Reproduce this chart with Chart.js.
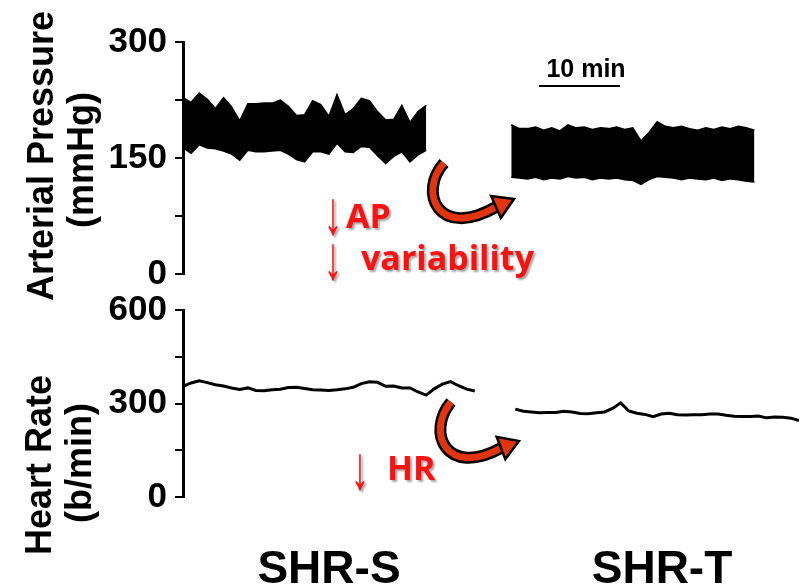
<!DOCTYPE html>
<html>
<head>
<meta charset="utf-8">
<script src="https://cdn.jsdelivr.net/npm/chart.js@4.4.1/dist/chart.umd.min.js"></script>
<style>
  body { margin: 0; background: #fff; }
  .wrap { position: relative; width: 807px; height: 587px; }
  canvas { position: absolute; left: 0; top: 0; }
</style>
</head>
<body>
<div class="wrap">
  <canvas id="apChart" width="807" height="587"></canvas>
  <canvas id="hrChart" width="807" height="587"></canvas>
</div>
<script>
// arterial pressure envelope (mmHg), one reading per minute
const apStartS = 0;
const apUpperS = [228, 222, 234, 226, 214, 228, 216, 198, 220, 220, 221, 221, 225, 217, 205, 206,
                  224, 219, 204, 232, 206, 214, 227, 224, 210, 199, 200, 218, 196, 210, 218];
const apLowerS = [163, 156, 167, 163, 162, 159, 155, 147, 160, 158, 158, 159, 160, 155, 148, 145,
                  158, 158, 155, 169, 158, 157, 165, 164, 153, 143, 152, 158, 145, 154, 160];

const apStartT = 40.5;
const apUpperT = [193, 188, 188, 190, 186, 189, 185, 193, 189, 190, 187, 189, 188, 190, 187, 189,
                  172, 183, 197, 191, 189, 191, 188, 186, 189, 187, 190, 188, 191, 189, 186];
const apLowerT = [125, 124, 123, 125, 122, 124, 123, 126, 124, 125, 122, 124, 123, 124, 122, 121,
                  116, 122, 126, 125, 124, 122, 124, 123, 122, 124, 121, 123, 122, 120, 119];

// heart rate (b/min), one reading per minute
const hrStartS = 0;
const hrS = [355, 366, 373, 367, 360, 356, 350, 345, 350, 342, 341, 344, 346, 351, 352, 348, 344, 343,
             342, 344, 347, 352, 364, 370, 368, 355, 356, 350, 350, 337, 327, 347, 362, 370, 357, 346, 340];
const hrStartT = 41;
const hrT = [282, 275, 273, 270, 271, 271, 275, 273, 268, 267, 270, 273, 284, 302, 276, 269, 265, 258,
             266, 269, 264, 263, 264, 264, 266, 266, 262, 259, 258, 258, 260, 254, 257, 256, 253, 245];

const apTicks = [0, 150, 300];
const hrTicks = [0, 300, 600];
const groups = ['SHR-S', 'SHR-T'];

function toPoints(start, values) {
  return values.map((v, i) => ({ x: start + i, y: v }));
}

const tickFont = { family: 'Liberation Sans, Arial, sans-serif', size: 35, weight: 'bold' };

function yAxis(max, labels) {
  return {
    min: 0,
    max: max,
    ticks: {
      stepSize: max / 4,
      autoSkip: false,
      color: '#000',
      font: tickFont,
      padding: 8,
      callback: v => labels.includes(v) ? v : ''
    },
    grid: { drawOnChartArea: false, tickLength: 8, color: '#000', lineWidth: 2 },
    border: { color: '#000', width: 3 },
    afterFit: s => { s.width = 183; }
  };
}

function baseOptions(max, labels, pad) {
  return {
    responsive: false,
    animation: false,
    layout: { padding: pad },
    plugins: { legend: { display: false }, tooltip: { enabled: false } },
    elements: { point: { radius: 0 } },
    scales: {
      x: { type: 'linear', min: 0, max: 76, display: false },
      y: yAxis(max, labels)
    }
  };
}

const band = (data, fill) => ({
  data: data,
  borderColor: '#000',
  borderWidth: 1.5,
  backgroundColor: '#000',
  fill: fill,
  tension: 0
});

new Chart(document.getElementById('apChart'), {
  type: 'line',
  data: {
    datasets: [
      band(toPoints(apStartS, apUpperS), false),
      band(toPoints(apStartS, apLowerS), '-1'),
      band(toPoints(apStartT, apUpperT), false),
      band(toPoints(apStartT, apLowerT), '-1')
    ]
  },
  options: baseOptions(300, apTicks, { left: 0, right: 8, top: 42, bottom: 313 })
});

// red curved arrow with black outline
function curvedArrow(ctx, p0, c1, c2, p1, tip) {
  ctx.save();
  ctx.lineCap = 'butt';
  ctx.beginPath();
  ctx.moveTo(p0[0], p0[1]);
  ctx.bezierCurveTo(c1[0], c1[1], c2[0], c2[1], p1[0], p1[1]);
  ctx.strokeStyle = '#000';
  ctx.lineWidth = 12;
  ctx.stroke();
  ctx.strokeStyle = '#e2350f';
  ctx.lineWidth = 7;
  ctx.stroke();
  const dx = tip[0] - p1[0], dy = tip[1] - p1[1];
  const len = Math.hypot(dx, dy);
  const px = -dy / len * 12, py = dx / len * 12;
  ctx.beginPath();
  ctx.moveTo(tip[0], tip[1]);
  ctx.lineTo(p1[0] + px, p1[1] + py);
  ctx.lineTo(p1[0] - px, p1[1] - py);
  ctx.closePath();
  ctx.fillStyle = '#e2350f';
  ctx.fill();
  ctx.strokeStyle = '#000';
  ctx.lineWidth = 2.5;
  ctx.stroke();
  ctx.restore();
}

function rotText(ctx, text, x, y) {
  ctx.save();
  ctx.translate(x, y);
  ctx.rotate(-Math.PI / 2);
  ctx.fillText(text, 0, 0);
  ctx.restore();
}

// tall thin down arrow glyph
function downArrow(ctx, x, y) {
  ctx.save();
  ctx.translate(x, y);
  ctx.scale(0.6, 1);
  ctx.font = '62px Liberation Sans, Arial, sans-serif';
  ctx.textAlign = 'center';
  ctx.fillText('\u2193', 0, 0);
  ctx.restore();
}

const decor = {
  id: 'decor',
  afterDraw(chart) {
    const ctx = chart.ctx;
    ctx.save();
    // axis titles
    ctx.fillStyle = '#000';
    ctx.font = 'bold 36px Liberation Sans, Arial, sans-serif';
    ctx.textAlign = 'center';
    ctx.textBaseline = 'alphabetic';
    rotText(ctx, 'Arterial Pressure', 53, 156);
    rotText(ctx, '(mmHg)', 93, 160);
    rotText(ctx, 'Heart Rate', 51, 465);
    rotText(ctx, '(b/min)', 91, 463);

    // group labels
    ctx.font = 'bold 46px Liberation Sans, Arial, sans-serif';
    ctx.fillText(groups[0], 329, 583);
    ctx.fillText(groups[1], 662, 583);

    // scale bar
    ctx.font = 'bold 25px Liberation Sans, Arial, sans-serif';
    ctx.fillText('10 min', 586, 77);
    ctx.fillRect(539, 85, 81, 2);

    // red annotations
    ctx.shadowColor = 'rgba(0,0,0,0.35)';
    ctx.shadowOffsetX = 2;
    ctx.shadowOffsetY = 2;
    ctx.shadowBlur = 2;
    ctx.fillStyle = '#ff1010';
    downArrow(ctx, 333, 234);
    downArrow(ctx, 333, 279);
    downArrow(ctx, 360, 489);
    ctx.textAlign = 'left';
    ctx.font = 'bold 34px Open Sans, sans-serif';
    ctx.fillText('AP', 346, 228);
    ctx.fillText('variability', 361, 270);
    ctx.fillText('HR', 387, 480);
    ctx.restore();

    curvedArrow(ctx, [444, 163], [418, 192], [438, 240], [496, 207], [514, 199]);
    curvedArrow(ctx, [451, 402], [426, 432], [446, 478], [501, 448], [519, 441]);
  }
};

new Chart(document.getElementById('hrChart'), {
  type: 'line',
  data: {
    datasets: [
      { data: toPoints(hrStartS, hrS), borderColor: '#000', borderWidth: 3, fill: false, tension: 0 },
      { data: toPoints(hrStartT, hrT), borderColor: '#000', borderWidth: 3, fill: false, tension: 0 }
    ]
  },
  options: baseOptions(600, hrTicks, { left: 0, right: 8, top: 310, bottom: 90 }),
  plugins: [decor]
});
</script>
</body>
</html>
